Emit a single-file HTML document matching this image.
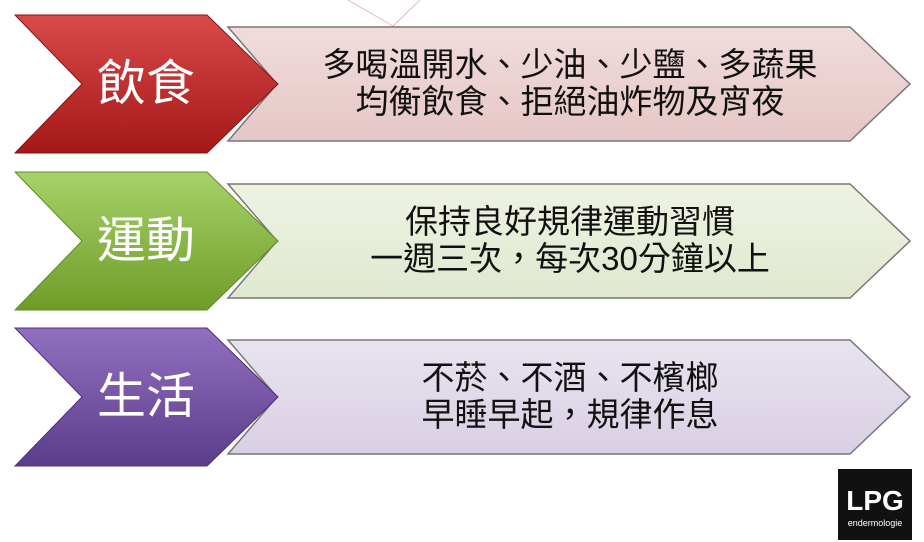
<!DOCTYPE html>
<html><head><meta charset="utf-8"><style>
body{margin:0;width:924px;height:542px;background:#fff;overflow:hidden;position:relative;font-family:"Liberation Sans","Noto Sans CJK TC",sans-serif}
.t{position:absolute;text-align:center;color:#111;font-size:33px;line-height:37px}
.c{position:absolute;color:#fff;font-size:49px;line-height:52px;text-align:center;width:170px}
</style></head><body>
<svg width="924" height="542" style="position:absolute;left:0;top:0">
<defs>
<linearGradient id="r" x1="0" y1="0" x2="0" y2="1"><stop offset="0" stop-color="#d94a4a"/><stop offset="1" stop-color="#a51818"/></linearGradient>
<linearGradient id="g" x1="0" y1="0" x2="0" y2="1"><stop offset="0" stop-color="#a6d26a"/><stop offset="1" stop-color="#6f9c28"/></linearGradient>
<linearGradient id="p" x1="0" y1="0" x2="0" y2="1"><stop offset="0" stop-color="#9270c0"/><stop offset="1" stop-color="#5c3d8a"/></linearGradient>
<linearGradient id="rb" x1="0" y1="0" x2="0" y2="1"><stop offset="0" stop-color="#f1dcdc"/><stop offset="1" stop-color="#e6c6c6"/></linearGradient>
<linearGradient id="gb" x1="0" y1="0" x2="0" y2="1"><stop offset="0" stop-color="#eef3e2"/><stop offset="1" stop-color="#dfe8cf"/></linearGradient>
<linearGradient id="pb" x1="0" y1="0" x2="0" y2="1"><stop offset="0" stop-color="#e9e3ef"/><stop offset="1" stop-color="#d9d0e3"/></linearGradient>
</defs>
<line x1="348" y1="0" x2="393" y2="26" stroke="#e8b8c0" stroke-width="1"/>
<line x1="420" y1="0" x2="393" y2="26" stroke="#e8b8c0" stroke-width="1"/>
<g>
<polygon points="228,27 850,27 910,84 850,141 228,141 277,84" fill="url(#rb)" stroke="#777" stroke-width="1.5"/>
<polygon points="15,15 207,15 278,84 207,153 15,153 82,84" fill="url(#r)" stroke="#8a1010" stroke-width="1"/>
</g>
<g transform="translate(0,157)">
<polygon points="228,27 850,27 910,84 850,141 228,141 277,84" fill="url(#gb)" stroke="#777" stroke-width="1.5"/>
<polygon points="15,15 207,15 278,84 207,153 15,153 82,84" fill="url(#g)" stroke="#5f8a20" stroke-width="1"/>
</g>
<g transform="translate(0,313)">
<polygon points="228,27 850,27 910,84 850,141 228,141 277,84" fill="url(#pb)" stroke="#777" stroke-width="1.5"/>
<polygon points="15,15 207,15 278,84 207,153 15,153 82,84" fill="url(#p)" stroke="#4c2f78" stroke-width="1"/>
</g>
<rect x="838" y="469" width="74" height="71" fill="#111"/>
<text x="875" y="510" fill="#fff" font-family="Liberation Sans" font-weight="bold" font-size="28" text-anchor="middle">LPG</text>
<text x="875" y="526" fill="#fff" font-family="Liberation Sans" font-size="9" text-anchor="middle">endermologie</text>
</svg>
<div class="c" style="left:61px;top:58px">飲食</div>
<div class="c" style="left:61px;top:215px">運動</div>
<div class="c" style="left:61px;top:371px">生活</div>
<div class="t" style="left:270px;width:600px;top:46px">多喝溫開水、少油、少鹽、多蔬果<br>均衡飲食、拒絕油炸物及宵夜</div>
<div class="t" style="left:270px;width:600px;top:203px">保持良好規律運動習慣<br>一週三次，每次30分鐘以上</div>
<div class="t" style="left:270px;width:600px;top:359px">不菸、不酒、不檳榔<br>早睡早起，規律作息</div>
</body></html>
